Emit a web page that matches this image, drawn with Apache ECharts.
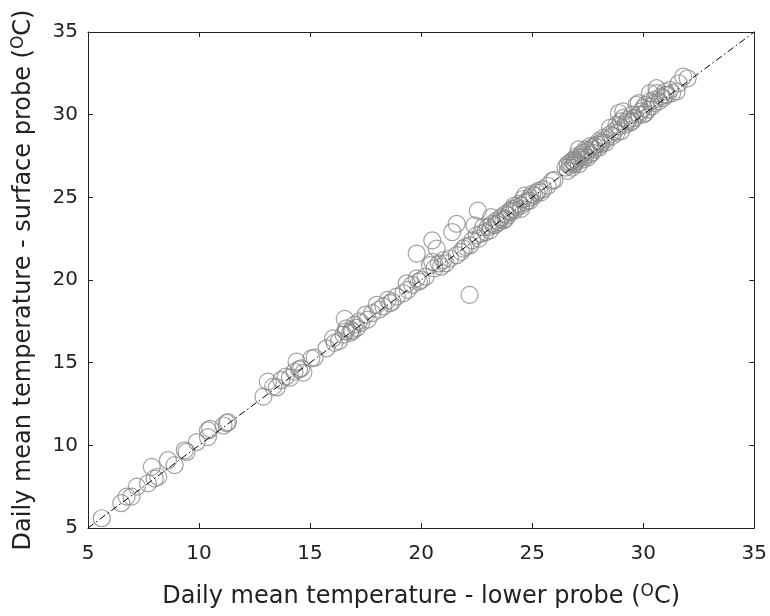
<!DOCTYPE html>
<html>
<head>
<meta charset="utf-8">
<script src="https://cdn.jsdelivr.net/npm/echarts@6/dist/echarts.min.js"></script>
<style>html,body{margin:0;padding:0;background:#fff}#c{width:770px;height:616px}</style>
</head>
<body>
<div id="c"></div>
<script>
// Daily mean temperature, lower probe (x) vs surface probe (y), degrees C
const lowerProbe = [
  5.62, 6.5, 6.74, 6.96, 7.2, 7.7, 8.0, 7.87, 8.16, 8.6, 8.9, 9.44, 9.36, 9.9, 10.4, 10.4, 10.5, 11.1, 11.3, 11.25,
  12.9, 13.1, 13.34, 13.5, 13.7, 13.9, 14.1, 14.3, 14.39, 14.5, 14.6, 14.7, 15.06, 15.2, 15.74, 16.03, 16.1, 16.3,
  16.5, 16.6, 16.56, 16.64, 16.86, 16.9, 17.0, 17.1, 17.2, 16.8, 17.3, 17.5, 17.6, 17.8, 18.0, 18.1, 18.3, 18.5, 18.6, 18.9, 18.7, 19.2, 19.4, 19.35, 19.6, 19.8, 19.9, 20.2, 20.0,
  19.8, 20.5, 20.7, 20.5, 20.8, 20.4, 20.6, 21.0, 21.1, 21.4, 21.6, 21.6, 21.8, 22.0, 22.2, 22.18, 22.4, 22.55, 22.6, 22.8, 22.7, 22.9, 23.0, 23.15, 21.3, 20.9, 21.9, 22.3, 22.5,
  23.2, 23.3, 23.4, 23.5, 23.6, 23.7, 23.8, 23.9, 24.0, 24.1, 24.2, 24.3, 24.4, 24.5, 24.6, 24.7, 24.8, 24.66, 24.9, 25.0, 25.1, 25.3, 25.4, 25.5, 25.7, 25.9, 26.0, 23.1, 23.4, 23.8, 24.2, 24.5, 24.9, 23.6, 24.0, 25.2,
  26.5, 26.6, 26.7, 26.7, 26.8, 26.9, 26.9, 27.0, 27.0, 27.1, 27.1, 27.2, 27.3, 27.3, 27.4, 27.5, 27.5, 27.6, 27.7, 27.7, 27.8, 27.9, 28.0, 28.0, 28.1, 28.2, 28.3, 28.3, 26.6, 26.8, 27.2, 27.4, 27.6, 26.9, 27.1, 27.8, 28.1,
  28.5, 28.5, 28.6, 28.7, 28.8, 28.9, 28.9, 29.0, 29.0, 29.1, 29.1, 29.2, 29.3, 29.4, 29.5, 29.6, 29.7, 29.8, 29.8, 29.9, 30.0, 30.0, 30.1, 30.2, 30.3, 30.3, 30.4, 30.5, 30.6, 30.6, 30.7, 30.8, 30.9, 31.0, 31.1, 31.2, 31.3, 31.5, 31.6, 31.8, 32.0, 30.1, 29.5, 28.8, 29.3, 30.5, 31.0
];
const surfaceProbe = [
  5.59, 6.5, 6.9, 6.9, 7.5, 7.7, 8.0, 8.7, 8.1, 9.1, 8.8, 9.6, 9.7, 10.2, 10.9, 10.5, 11.0, 11.2, 11.4, 11.35,
  12.95, 13.85, 13.55, 13.5, 13.95, 14.15, 14.1, 14.45, 15.06, 14.6, 14.66, 14.4, 15.26, 15.3, 15.87, 16.47, 16.2, 16.3,
  16.7, 16.9, 17.65, 17.08, 16.98, 16.9, 17.3, 17.1, 17.5, 16.8, 17.4, 17.9, 17.6, 18.0, 18.5, 18.2, 18.4, 18.8, 18.6, 19.0, 18.7, 19.2, 19.4, 19.8, 19.7, 20.1, 19.9, 20.2, 20.0,
  21.6, 22.4, 21.9, 21.1, 21.0, 20.9, 20.7, 21.2, 21.0, 22.9, 23.4, 21.5, 21.7, 22.0, 22.1, 19.1, 23.3, 24.2, 22.5, 23.2, 22.8, 22.9, 23.2, 23.8, 21.3, 20.8, 21.9, 22.4, 22.7,
  23.4, 23.3, 23.6, 23.5, 23.8, 23.6, 24.0, 23.9, 24.1, 24.3, 24.2, 24.4, 24.6, 24.5, 24.9, 24.7, 24.8, 25.1, 25.0, 25.2, 25.1, 25.4, 25.3, 25.5, 25.7, 26.0, 26.05, 23.0, 23.4, 23.7, 24.5, 24.3, 24.8, 23.7, 24.2, 25.3,
  26.8, 26.6, 26.9, 27.1, 26.8, 27.3, 27.0, 27.2, 27.5, 27.9, 27.0, 27.4, 27.3, 27.7, 27.5, 27.8, 27.4, 28.1, 27.7, 28.0, 27.9, 28.2, 28.0, 28.4, 28.2, 28.6, 28.3, 28.5, 27.0, 27.2, 27.6, 27.9, 27.6, 27.1, 27.4, 28.1, 28.3,
  29.2, 28.8, 28.7, 29.0, 29.4, 29.3, 30.1, 29.0, 29.6, 29.8, 30.2, 29.4, 29.7, 29.5, 30.0, 29.8, 30.6, 30.7, 30.0, 30.2, 30.4, 30.0, 30.6, 30.3, 31.3, 30.8, 30.5, 30.9, 31.6, 31.3, 30.8, 31.1, 31.0, 31.4, 31.2, 31.5, 31.3, 31.4, 31.9, 32.3, 32.2, 30.1, 29.6, 28.9, 29.6, 30.7, 31.2
];
const oneToOne = [[5, 5], [35, 35]];
const axisMin = 5, axisMax = 35, axisStep = 5;
const xTitle = 'Daily mean temperature - lower probe (';
const yTitle = 'Daily mean temperature - surface probe (';

const points = lowerProbe.map((x, i) => [x, surfaceProbe[i]]);
const font = '"DejaVu Sans", Verdana, sans-serif';
const axisColor = '#222';
const rich = {
  n: { fontSize: 24, fontFamily: font, color: '#222' },
  s: { fontSize: 17, fontFamily: font, color: '#222', verticalAlign: 'top', padding: [0, 0, 11, 0] }
};
function baseAxis(extra) {
  return Object.assign({
    type: 'value', min: axisMin, max: axisMax, interval: axisStep,
    splitLine: { show: false },
    axisLine: { show: true, onZero: false, lineStyle: { color: axisColor, width: 1 } },
    axisTick: { show: true, inside: true, length: 5, lineStyle: { color: axisColor } },
    axisLabel: { show: true, fontSize: 20, fontFamily: font, color: '#222' }
  }, extra);
}
const chart = echarts.init(document.getElementById('c'), null, { renderer: 'canvas' });
chart.setOption({
  animation: false,
  backgroundColor: '#fff',
  grid: { left: 88, right: 15, top: 32, bottom: 88, containLabel: false },
  xAxis: [
    baseAxis({ position: 'bottom', name: '{n|' + xTitle + '}{s|O}{n|C)}', nameLocation: 'middle', nameGap: 55,
      nameTextStyle: { rich: rich }, axisLabel: { show: true, fontSize: 20, fontFamily: font, color: '#222', margin: 16 } }),
    baseAxis({ position: 'top', axisLabel: { show: false } })
  ],
  yAxis: [
    baseAxis({ position: 'left', name: '{n|' + yTitle + '}{s|O}{n|C)}', nameLocation: 'middle', nameGap: 50,
      nameTextStyle: { rich: rich }, axisLabel: { show: true, fontSize: 20, fontFamily: font, color: '#222', margin: 10 } }),
    baseAxis({ position: 'right', axisLabel: { show: false } })
  ],
  series: [
    {
      type: 'scatter', data: points, symbol: 'circle', symbolSize: 17,
      itemStyle: { color: 'rgba(0,0,0,0)', borderColor: '#888', borderWidth: 1.2 },
      emphasis: { disabled: true }, z: 2
    },
    {
      type: 'line', data: oneToOne, symbol: 'none', z: 3,
      lineStyle: { color: '#000', width: 1, type: [7, 3, 1.5, 3] }
    }
  ]
});
</script>
</body>
</html>
